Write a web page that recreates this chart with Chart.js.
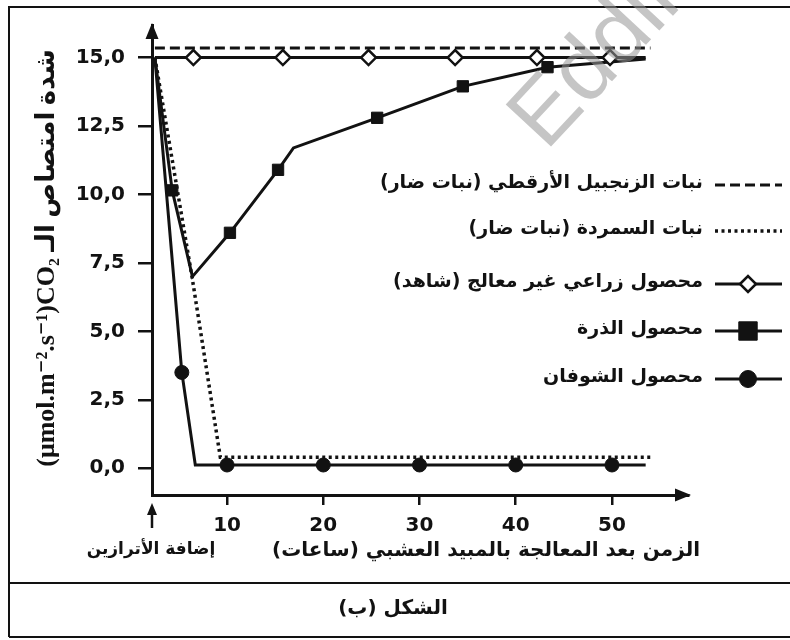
<!DOCTYPE html>
<html>
<head>
<meta charset="utf-8">
<script src="https://cdn.jsdelivr.net/npm/chart.js@4.4.1/dist/chart.umd.min.js"></script>
<style>
  html, body { margin: 0; padding: 0; background: #ffffff; }
  canvas { display: block; }
</style>
</head>
<body>
<canvas id="chart" width="790" height="640"></canvas>
<script>
// Time after herbicide treatment (hours) and CO2 uptake rate (µmol.m-2.s-1)
const seriesLabels = [
  'نبات الزنجبيل الأرقطي (نبات ضار)',
  'نبات السمردة (نبات ضار)',
  'محصول زراعي غير معالج (شاهد)',
  'محصول الذرة',
  'محصول الشوفان'
];

const burdockTimes  = [2.5, 54.0];
const burdockValues = [15.35, 15.35];

const weedTimes  = [2.5, 6.4, 9.3, 54.2];
const weedValues = [15.0, 6.9, 0.4, 0.4];

const controlTimes   = [2.5, 6.5, 15.8, 24.7, 33.7, 42.2, 49.8, 53.5];
const controlValues  = [15.0, 15.0, 15.0, 15.0, 15.0, 15.0, 15.0, 15.0];
const controlMarked  = [1, 2, 3, 4, 5, 6];

const cornTimes  = [2.5, 4.3, 6.4, 10.3, 15.3, 16.9, 25.6, 34.5, 43.3, 53.5];
const cornValues = [15.0, 10.15, 7.0, 8.6, 10.9, 11.7, 12.8, 13.95, 14.65, 14.95];
const cornMarked = [1, 3, 4, 6, 7, 8];

const oatTimes  = [2.5, 5.3, 6.7, 10, 20, 30, 40, 50, 53.5];
const oatValues = [15.0, 3.5, 0.12, 0.12, 0.12, 0.12, 0.12, 0.12, 0.12];
const oatMarked = [1, 3, 4, 5, 6, 7];

const yTickValues = [0, 2.5, 5, 7.5, 10, 12.5, 15];
const xTickValues = [10, 20, 30, 40, 50];

const xTitle = 'الزمن بعد المعالجة بالمبيد العشبي (ساعات)';
const yTitleUnit = '(μmol.m⁻².s⁻¹)CO₂ ';
const yTitleText = 'شدة امتصاص الـ';
const startNote = 'إضافة الأترازين';
const figureCaption = 'الشكل (ب)';
const stampText = 'Eddirasa';

const INK = '#121212';
const LATIN = '"DejaVu Sans", "Liberation Sans", sans-serif';
const ARABIC = '"DejaVu Sans", sans-serif';
const TITLE_FONT = '"Liberation Serif", "DejaVu Sans", serif';

const toPoints = (xs, ys) => xs.map((x, i) => ({ x: x, y: ys[i] }));
const markerRadius = (marked, r) => ctx => marked.includes(ctx.dataIndex) ? r : 0;

const datasets = [
  {
    label: seriesLabels[2],
    data: toPoints(controlTimes, controlValues),
    borderColor: INK, borderWidth: 3,
    pointStyle: 'rectRot', pointRadius: markerRadius(controlMarked, 7.5),
    pointBackgroundColor: '#ffffff', pointBorderColor: INK, pointBorderWidth: 2.5,
    legendRadius: 8, legendOrder: 2
  },
  {
    label: seriesLabels[0],
    data: toPoints(burdockTimes, burdockValues),
    borderColor: INK, borderWidth: 3, borderDash: [10, 5],
    pointRadius: 0, legendOrder: 0
  },
  {
    label: seriesLabels[1],
    data: toPoints(weedTimes, weedValues),
    borderColor: INK, borderWidth: 3.5, borderDash: [3, 3.5],
    pointRadius: 0, legendOrder: 1
  },
  {
    label: seriesLabels[3],
    data: toPoints(cornTimes, cornValues),
    borderColor: INK, borderWidth: 3,
    pointStyle: 'rect', pointRadius: markerRadius(cornMarked, 8),
    pointBackgroundColor: INK, pointBorderColor: INK, pointBorderWidth: 1,
    legendRadius: 13, legendOrder: 3
  },
  {
    label: seriesLabels[4],
    data: toPoints(oatTimes, oatValues),
    borderColor: INK, borderWidth: 3,
    pointStyle: 'circle', pointRadius: markerRadius(oatMarked, 7),
    pointBackgroundColor: INK, pointBorderColor: INK, pointBorderWidth: 1,
    legendRadius: 8.5, legendOrder: 4
  }
];

function arrowHead(ctx, tipX, tipY, dir, len, half) {
  ctx.beginPath();
  if (dir === 'up') {
    ctx.moveTo(tipX, tipY);
    ctx.lineTo(tipX - half, tipY + len);
    ctx.lineTo(tipX + half, tipY + len);
  } else {
    ctx.moveTo(tipX, tipY);
    ctx.lineTo(tipX - len, tipY - half);
    ctx.lineTo(tipX - len, tipY + half);
  }
  ctx.closePath();
  ctx.fill();
}

const decorations = {
  id: 'decorations',
  afterDraw(chart) {
    const ctx = chart.ctx;
    const area = chart.chartArea;
    ctx.save();
    ctx.fillStyle = INK;
    ctx.strokeStyle = INK;

    // frame around the figure and the caption row
    ctx.lineWidth = 2;
    ctx.beginPath();
    ctx.moveTo(9, 637); ctx.lineTo(9, 7); ctx.lineTo(790, 7);
    ctx.moveTo(9, 583); ctx.lineTo(790, 583);
    ctx.moveTo(9, 637); ctx.lineTo(790, 637);
    ctx.stroke();

    // axis arrowheads
    arrowHead(ctx, area.left, area.top - 2, 'up', 16, 6.5);
    arrowHead(ctx, area.right + 3, area.bottom, 'right', 16, 6.5);

    // atrazine application marker
    ctx.lineWidth = 2.5;
    ctx.beginPath();
    ctx.moveTo(area.left, 528); ctx.lineTo(area.left, 512);
    ctx.stroke();
    arrowHead(ctx, area.left, 503, 'up', 12, 5);

    // y axis title (rotated), sized to span the axis height
    ctx.save();
    ctx.translate(47, 258);
    ctx.rotate(-Math.PI / 2);
    ctx.direction = 'ltr';
    ctx.textAlign = 'center';
    ctx.textBaseline = 'middle';
    const yTitle = yTitleUnit + yTitleText;
    ctx.font = 'bold 20px ' + TITLE_FONT;
    const size = Math.min(26, 20 * 430 / ctx.measureText(yTitle).width);
    ctx.font = 'bold ' + size.toFixed(1) + 'px ' + TITLE_FONT;
    ctx.fillText(yTitle, 0, 0);
    ctx.restore();

    // x axis title and note
    ctx.direction = 'rtl';
    ctx.textBaseline = 'middle';
    ctx.font = 'bold 20px ' + ARABIC;
    ctx.textAlign = 'right';
    ctx.fillText(xTitle, 700, 551);
    ctx.font = 'bold 17px ' + ARABIC;
    ctx.textAlign = 'center';
    ctx.fillText(startNote, 151, 550);

    // caption
    ctx.font = 'bold 20px ' + ARABIC;
    ctx.textAlign = 'center';
    ctx.fillText(figureCaption, 393, 609);

    // legend
    const rows = [185, 231, 284, 331, 379];
    chart.data.datasets.forEach(ds => {
      const y = rows[ds.legendOrder];
      ctx.save();
      ctx.lineWidth = ds.borderWidth;
      ctx.setLineDash(ds.borderDash || []);
      ctx.beginPath();
      ctx.moveTo(715, y); ctx.lineTo(782, y);
      ctx.stroke();
      ctx.restore();
      if (ds.legendRadius) {
        ctx.save();
        ctx.fillStyle = ds.pointBackgroundColor;
        ctx.strokeStyle = ds.pointBorderColor;
        ctx.lineWidth = ds.pointBorderWidth;
        Chart.helpers.drawPoint(ctx, {
          pointStyle: ds.pointStyle, radius: ds.legendRadius,
          rotation: 0, borderWidth: ds.pointBorderWidth
        }, 748, y);
        ctx.restore();
      }
      ctx.direction = 'rtl';
      ctx.textAlign = 'right';
      ctx.textBaseline = 'middle';
      ctx.font = 'bold 19px ' + ARABIC;
      ctx.fillText(ds.label, 703, y - 2);
    });

    // background stamp
    ctx.save();
    ctx.direction = 'ltr';
    ctx.translate(546, 152);
    ctx.rotate(-47 * Math.PI / 180);
    ctx.font = '90px "Liberation Sans", sans-serif';
    ctx.fillStyle = 'rgba(150,150,150,0.55)';
    ctx.textAlign = 'left';
    ctx.textBaseline = 'alphabetic';
    ctx.fillText(stampText, 0, 0);
    ctx.restore();

    ctx.restore();
  }
};

new Chart(document.getElementById('chart'), {
  type: 'line',
  data: { datasets: datasets },
  options: {
    responsive: false,
    animation: false,
    devicePixelRatio: 1,
    layout: { autoPadding: false, padding: { left: 0, right: 102, top: 20, bottom: 0 } },
    elements: { line: { tension: 0, fill: false } },
    plugins: { legend: { display: false }, tooltip: { enabled: false } },
    scales: {
      x: {
        type: 'linear',
        min: 2.2,
        max: 57.9,
        afterFit(scale) { scale.height = 145; },
        afterBuildTicks(scale) { scale.ticks = xTickValues.map(v => ({ value: v })); },
        border: { color: INK, width: 3 },
        grid: { drawOnChartArea: false, color: INK, lineWidth: 2.5, tickLength: 10 },
        ticks: {
          color: INK, padding: 9, maxRotation: 0, autoSkip: false,
          font: { family: LATIN, size: 20, weight: 'bold' },
          callback: v => String(v)
        }
      },
      y: {
        type: 'linear',
        min: -0.976,
        max: 16.19,
        afterFit(scale) { scale.width = 152; },
        afterBuildTicks(scale) { scale.ticks = yTickValues.map(v => ({ value: v })); },
        border: { color: INK, width: 3 },
        grid: { drawOnChartArea: false, color: INK, lineWidth: 2.5, tickLength: 14 },
        ticks: {
          color: INK, padding: 13, autoSkip: false,
          font: { family: LATIN, size: 20, weight: 'bold' },
          callback: v => v.toFixed(1).replace('.', ',')
        }
      }
    }
  },
  plugins: [decorations]
});
</script>
</body>
</html>
